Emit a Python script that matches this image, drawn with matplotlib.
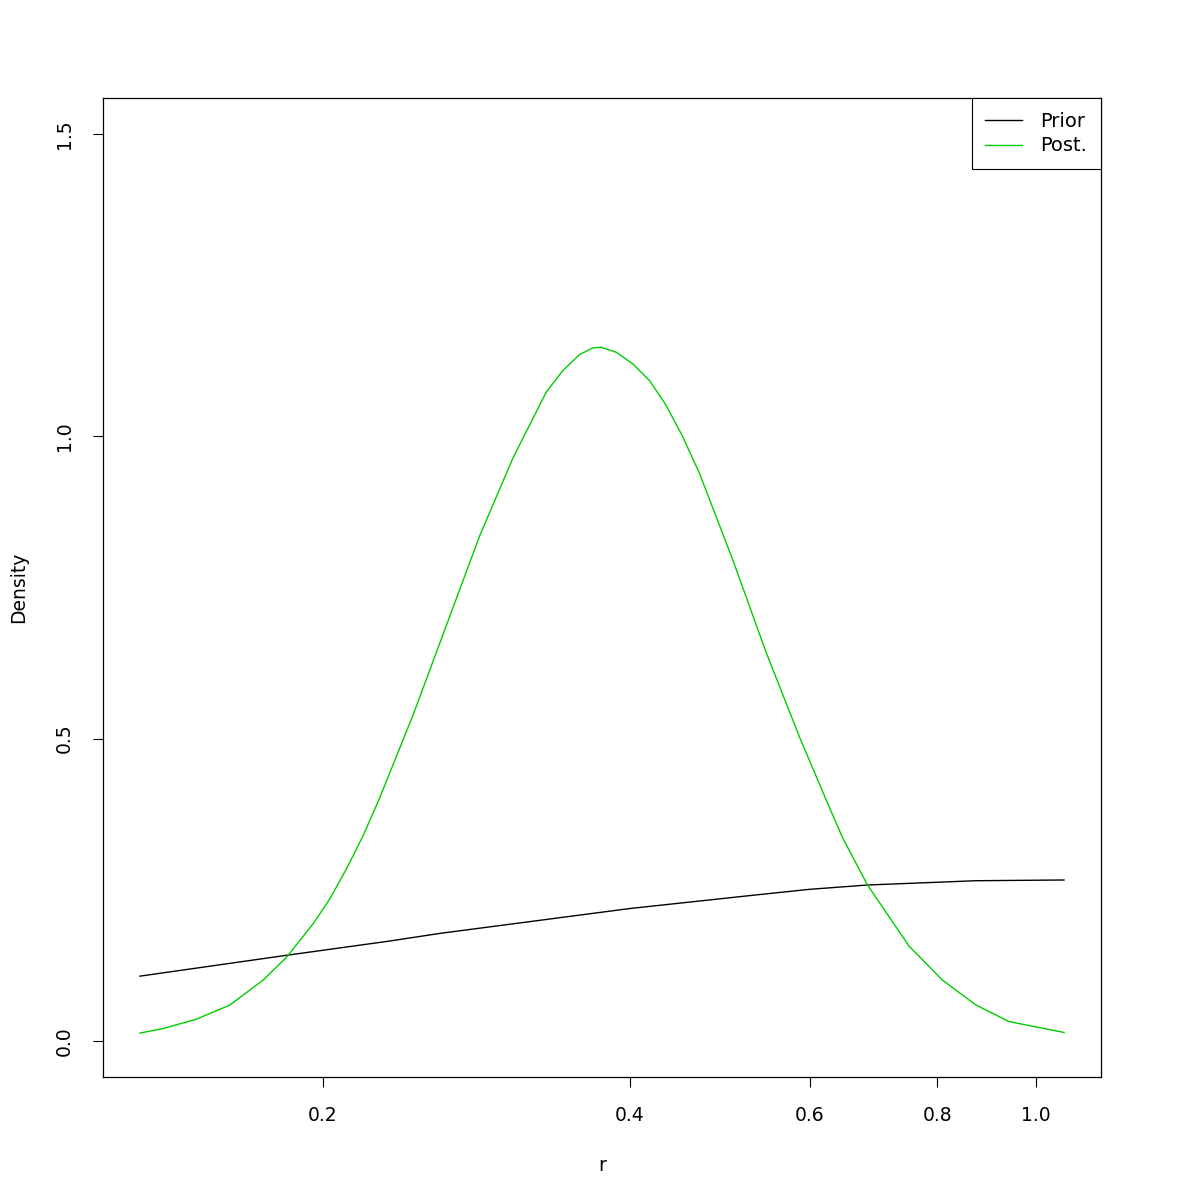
import matplotlib
matplotlib.use("Agg")
import matplotlib.pyplot as plt

# values (r on a log axis, density)
r_post = [0.1324, 0.1395, 0.1504, 0.1622, 0.1748, 0.1843, 0.1957, 0.2032,
          0.2110, 0.2190, 0.2274, 0.2452, 0.2643, 0.2849, 0.3071, 0.3312,
          0.3438, 0.3570, 0.3678, 0.3749, 0.3878, 0.4026, 0.4180, 0.4340,
          0.4506, 0.4679, 0.5043, 0.5438, 0.5862, 0.6226, 0.6463, 0.6837,
          0.7512, 0.8097, 0.8731, 0.9412, 1.0653]
dens_post = [0.0127, 0.0202, 0.0357, 0.0592, 0.1003, 0.1382, 0.1936, 0.2347,
             0.2845, 0.3388, 0.4018, 0.5390, 0.6870, 0.8350, 0.9638, 1.0735,
             1.1090, 1.1354, 1.1464, 1.1475, 1.1393, 1.1201, 1.0926, 1.0515,
             0.9995, 0.9391, 0.7965, 0.6431, 0.5033, 0.3992, 0.3360, 0.2577,
             0.1563, 0.1003, 0.0592, 0.0317, 0.0137]

r_prior = [0.1324, 0.1843, 0.2326, 0.2604, 0.4000, 0.5237, 0.5995, 0.6837,
           0.8731, 1.0653]
dens_prior = [0.1069, 0.1414, 0.1650, 0.1776, 0.2188, 0.2401, 0.2505, 0.2577,
              0.2648, 0.2660]

x_ticks = [0.2, 0.4, 0.6, 0.8, 1.0]
x_labels = ["0.2", "0.4", "0.6", "0.8", "1.0"]
y_ticks = [0.0, 0.5, 1.0, 1.5]
y_labels = ["0.0", "0.5", "1.0", "1.5"]

plt.rcParams['font.family'] = ['DejaVu Sans']
fig = plt.figure(figsize=(12, 12), dpi=100)
ax = fig.add_axes([103 / 1200, 1 - 1077 / 1200, 998 / 1200, 979 / 1200])

ax.plot(r_prior, dens_prior, color='black', linewidth=1, label='Prior')
ax.plot(r_post, dens_post, color='#00CD00', linewidth=1, label='Post.')

ax.set_xscale('log')
ax.set_xlim(0.1218, 1.158)
ax.set_ylim(-0.06, 1.56)
ax.set_xticks(x_ticks)
ax.set_xticklabels(x_labels)
ax.minorticks_off()
ax.set_yticks(y_ticks)
ax.set_yticklabels(y_labels, rotation=90, va='center')

ax.tick_params(axis='both', direction='out', length=7, width=0.8,
               labelsize=13.5, color='black')
ax.tick_params(axis='x', pad=14)
ax.tick_params(axis='y', pad=14)
for s in ax.spines.values():
    s.set_linewidth(0.9)

ax.set_xlabel('r', fontsize=13.5, labelpad=22)
ax.set_ylabel('Density', fontsize=13.5, labelpad=19)

leg = ax.legend(loc='upper right', borderaxespad=0, fancybox=False,
                edgecolor='black', framealpha=1, fontsize=14,
                handlelength=1.9, handletextpad=0.93, borderpad=0.7,
                labelspacing=0.3)
leg.get_frame().set_linewidth(0.8)

fig.savefig('out.png', dpi=100, facecolor='white')
